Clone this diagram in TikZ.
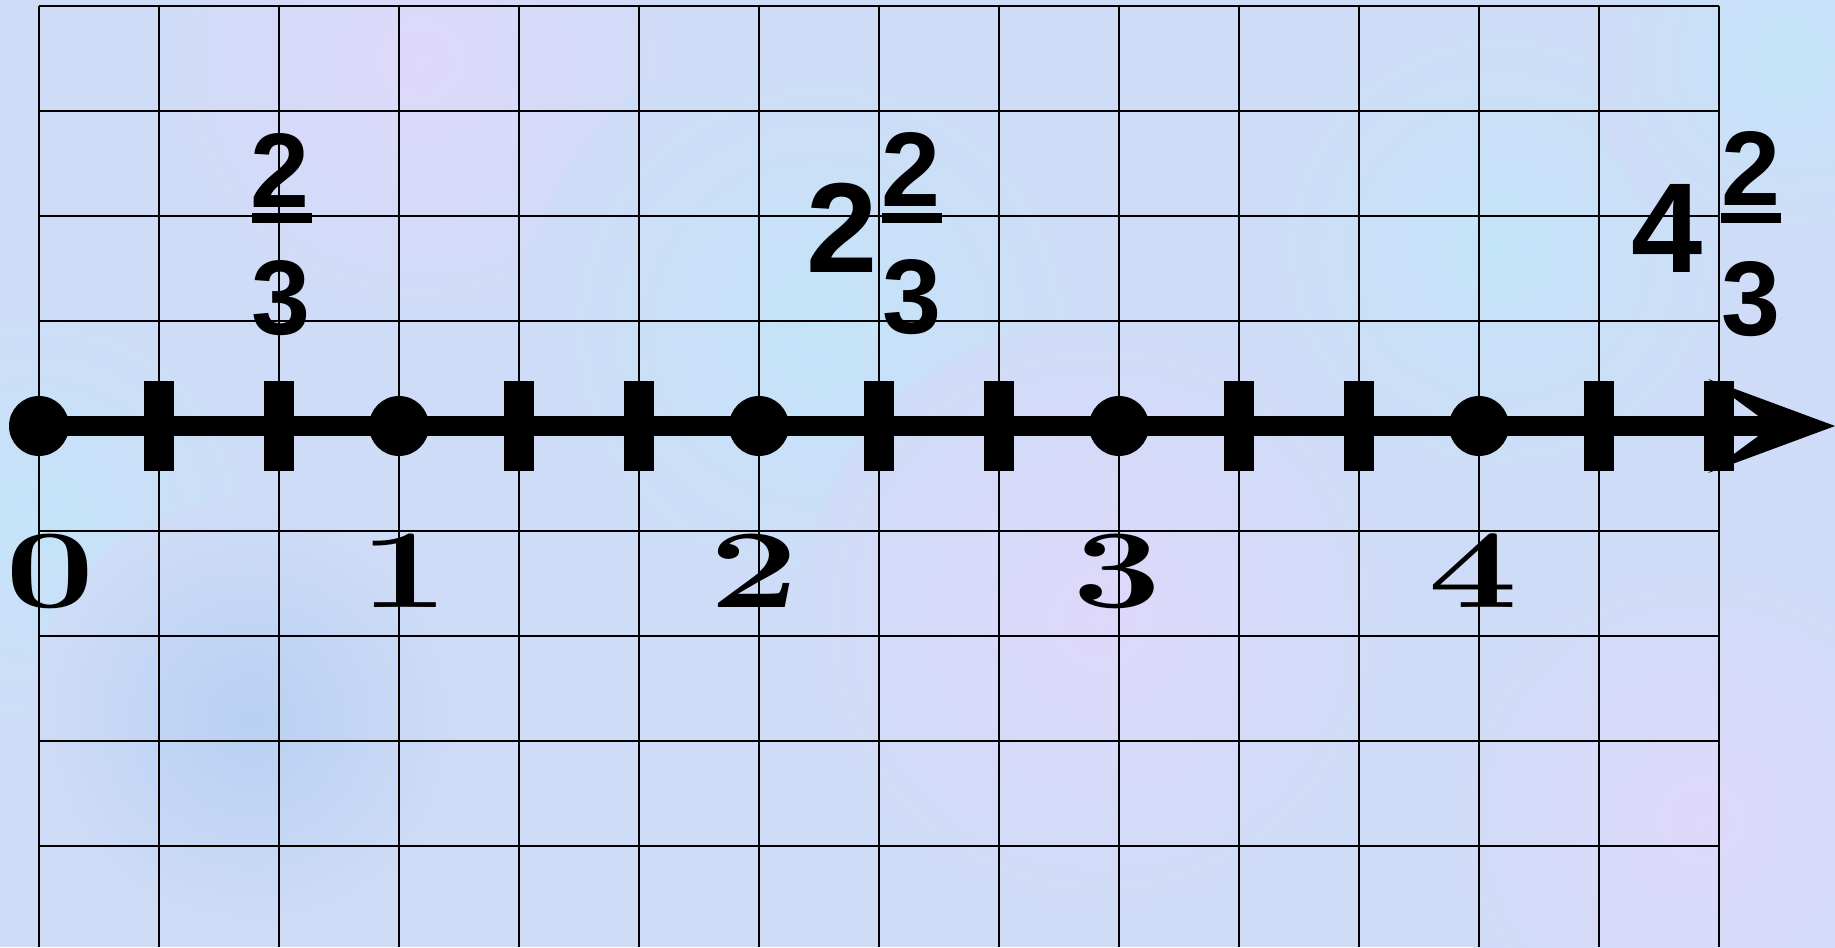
\documentclass[tikz,border=0pt]{standalone}
\usepackage{fontspec}
\setsansfont{Liberation Sans}[BoldFont={Liberation Sans Bold}]
\definecolor{bgbase}{RGB}{207,220,247}
\definecolor{bglav}{RGB}{222,216,250}
\definecolor{bgcyan}{RGB}{196,228,248}
\definecolor{bgblue}{RGB}{184,208,242}
\begin{document}
\begin{tikzpicture}[x=0.5pt,y=-0.5pt,
  gridline/.style={line width=0.85pt, black},
  axisline/.style={line width=10pt, black},
  dotmark/.style={circle, fill=black, inner sep=0pt, minimum size=30pt},
  tickmark/.style={rectangle, fill=black, inner sep=0pt, minimum width=15pt, minimum height=45pt},
  numlabel/.style={anchor=base, inner sep=0pt, font=\bfseries\fontsize{56}{60}\selectfont, xscale=1.42},
  fracdigit/.style={anchor=base, inner sep=0pt, font=\sffamily\bfseries\fontsize{53}{56}\selectfont},
  wholedigit/.style={anchor=base, inner sep=0pt, font=\sffamily\bfseries\fontsize{64}{68}\selectfont},
  fracbar/.style={rectangle, fill=black, inner sep=0pt, minimum width=30pt, minimum height=5pt},
  blob/.style={shading=radial, outer color=bgbase}]
  % background
  \fill[bgbase] (0,0) rectangle (1835,947);
  \useasboundingbox (0,0) rectangle (1835,947);
  \shade[blob, inner color=bglav] (420,60) circle (260);
  \shade[blob, inner color=bgcyan] (820,330) circle (300);
  \shade[blob, inner color=bglav] (1100,620) circle (300);
  \shade[blob, inner color=bgcyan] (1500,250) circle (260);
  \shade[blob, inner color=bgcyan] (40,520) circle (240);
  \shade[blob, inner color=bgblue] (250,720) circle (220);
  \shade[blob, inner color=bglav] (1700,820) circle (260);
  \shade[blob, inner color=bgcyan] (1790,60) circle (200);
  % grid
  \foreach \i in {0,...,14} \draw[gridline] ({39+120*\i},6) -- ({39+120*\i},947);
  \foreach \j in {0,...,8} \draw[gridline] (39,{6+105*\j}) -- (1719,{6+105*\j});
  % axis
  \node[dotmark] (d0) at (39,426) {};
  \coordinate (notch) at (1772,426);
  \coordinate (tip) at (1835,426);
  \coordinate (barbU) at (1708,379);
  \coordinate (barbL) at (1708,473);
  \draw[axisline] (d0.center) -- (notch);
  \fill[black] (tip) -- (barbU) -- (notch) -- (barbL) -- cycle;
  % ticks
  \foreach \k in {1,2,4,5,7,8,10,11,13,14}
    \node[tickmark] (t\k) at ({39+120*\k},426) {};
  % dots
  \node[dotmark] (d1) at (399,426) {};
  \node[dotmark] (d2) at (759,426) {};
  \node[dotmark] (d3) at (1119,426) {};
  \node[dotmark] (d4) at (1479,426) {};
  % integer labels
  \node[numlabel] (l0) at (50,607) {0};
  \node[numlabel] (l1) at (404,607) {1};
  \node[numlabel] (l2) at (754,607) {2};
  \node[numlabel] (l3) at (1117,607) {3};
  \node[numlabel] (l4) at (1473,607) {4};
  % 2/3
  \node[fracdigit] (aN) at (280,207) {2};
  \node[fracbar] (aB) at (282,218) {};
  \node[fracdigit] (aD) at (281,334) {3};
  % 2 2/3
  \node[wholedigit] (bW) at (842,272) {2};
  \node[fracdigit] (bN) at (911,206) {2};
  \node[fracbar] (bB) at (912,218) {};
  \node[fracdigit] (bD) at (912,333) {3};
  % 4 2/3
  \node[wholedigit] (cW) at (1667,272) {4};
  \node[fracdigit] (cN) at (1751,205) {2};
  \node[fracbar] (cB) at (1751,218) {};
  \node[fracdigit] (cD) at (1751,335) {3};
\end{tikzpicture}
\end{document}
